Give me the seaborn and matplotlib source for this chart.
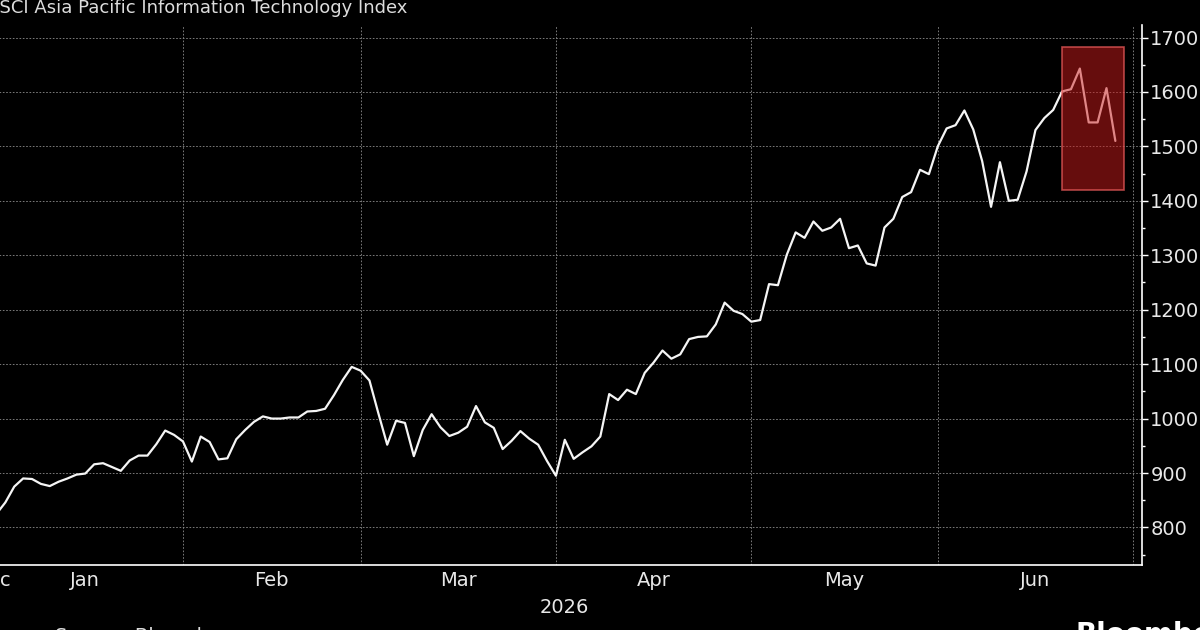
import numpy as np
import pandas as pd
import seaborn as sns
import matplotlib.pyplot as plt
from matplotlib.patches import Rectangle
from matplotlib.ticker import MultipleLocator

# --- data ---
title = "MSCI Asia Pacific Information Technology Index"
first_day = "2026-01-02"
year_start = "2026-01-01"
index_values = [
    825, 846, 875, 890, 889, 880, 876, 884, 890, 897,
    899, 916, 918, 911, 904, 923, 932, 932, 953, 978,
    970, 958, 921, 967, 957, 925, 927, 962, 979, 994,
    1004, 1000, 1000, 1002, 1002, 1013, 1014, 1018, 1043, 1071,
    1095, 1088, 1070, 1010, 952, 996, 992, 931, 979, 1008,
    984, 968, 974, 985, 1023, 993, 983, 944, 959, 977,
    963, 952, 922, 895, 961, 926, 938, 949, 967, 1045,
    1034, 1053, 1045, 1084, 1103, 1125, 1110, 1118, 1146, 1150,
    1151, 1173, 1213, 1198, 1192, 1178, 1181, 1247, 1245, 1301,
    1342, 1332, 1362, 1345, 1351, 1367, 1313, 1318, 1285, 1281,
    1351, 1367, 1407, 1416, 1457, 1449, 1500, 1533, 1539, 1566,
    1531, 1473, 1389, 1471, 1400, 1402, 1454, 1530, 1552, 1567,
    1601, 1605, 1643, 1544, 1544, 1607, 1510,
]
month_names = ["Jan", "Feb", "Mar", "Apr", "May", "Jun"]
month_starts = ["2026-01-01", "2026-02-01", "2026-03-01", "2026-04-01",
                "2026-05-01", "2026-06-01", "2026-07-01"]
y_ticks = list(range(800, 1701, 100))
highlight_dates = ("2026-06-19", "2026-06-30")
highlight_range = (1420, 1682)

# trading-day axis: position = weekdays since Jan 1
dates = pd.bdate_range(first_day, periods=len(index_values))
df = pd.DataFrame({"date": dates, "value": index_values})
df["pos"] = np.busday_count(year_start, df["date"].values.astype("datetime64[D]"))
bounds = np.busday_count(year_start, np.array(month_starts, dtype="datetime64[D]"))

sns.set_style("dark", {"axes.facecolor": "black", "figure.facecolor": "black"})
plt.rcParams["font.family"] = ["DejaVu Sans"]

fig = plt.figure(figsize=(12, 6.3), dpi=100)
ax = fig.add_axes([-4.4 / 1200, 65 / 630, 1146.4 / 1200, 540 / 630])
ax.set_facecolor("black")

sns.lineplot(data=df, x="pos", y="value", color="#f5f5f5", linewidth=1.6, ax=ax)

# highlight box over the last stretch
hx = np.busday_count(year_start, np.array(highlight_dates, dtype="datetime64[D]"))
ax.add_patch(Rectangle((hx[0], highlight_range[0]), hx[1] - hx[0],
                       highlight_range[1] - highlight_range[0],
                       facecolor=(0.8, 0.1, 0.1, 0.5), edgecolor=(0.9, 0.35, 0.35, 0.75),
                       linewidth=1.2, zorder=5))

ax.set_xlim(0.9, 130.0)
ax.set_ylim(731, 1723)

# axes styling
for side in ["left", "top"]:
    ax.spines[side].set_visible(False)
for side in ["right", "bottom"]:
    ax.spines[side].set_visible(True)
    ax.spines[side].set_color("white")
    ax.spines[side].set_linewidth(1.2)

ax.yaxis.tick_right()
ax.set_yticks(y_ticks)
ax.yaxis.set_minor_locator(MultipleLocator(50))
ax.tick_params(axis="y", which="major", direction="out", length=4.5, width=1,
               color="white", labelcolor="#e8e8e8", labelsize=14, pad=1.5)
ax.tick_params(axis="y", which="minor", direction="out", length=2.5, width=1, color="white")

ax.set_xticks(bounds[1:])
ax.set_xticklabels([])
ax.tick_params(axis="x", which="major", direction="out", length=3, width=1, color="white")

ax.grid(True, which="major", color="#8c8c8c", linestyle=(0, (2, 2)), linewidth=0.6)
ax.set_xlabel("")
ax.set_ylabel("")

# month labels centred within each month, year underneath
xt = ax.get_xaxis_transform()
centers = (bounds[:-1] + bounds[1:]) / 2
for name, c in zip(month_names, centers):
    ax.text(c, -0.0296, name, transform=xt, ha="center", va="center",
            fontsize=14, color="#e8e8e8", clip_on=False)
ax.text(0.5, -0.0296, "Dec", transform=xt, ha="center", va="center",
        fontsize=14, color="#e8e8e8", clip_on=False)
ax.text((bounds[0] + 130.0) / 2, -0.0778, "2026", transform=xt, ha="center",
        va="center", fontsize=14, color="#e8e8e8", clip_on=False)

# header / footer (the picture is cropped at the edges)
fig.text(-16 / 1200, 1 - 13 / 630, title, fontsize=12.95, color="#dcdcdc",
         ha="left", va="baseline")
fig.text(55 / 1200, 1 - 627 / 630, "Source: Bloomberg", fontsize=14,
         color="#dcdcdc", ha="left", va="top")
fig.text(1075 / 1200, 1 - 621 / 630, "Bloomberg", fontsize=20, fontweight="bold",
         color="white", ha="left", va="top")

fig.savefig("out.png", dpi=100, facecolor="black")
